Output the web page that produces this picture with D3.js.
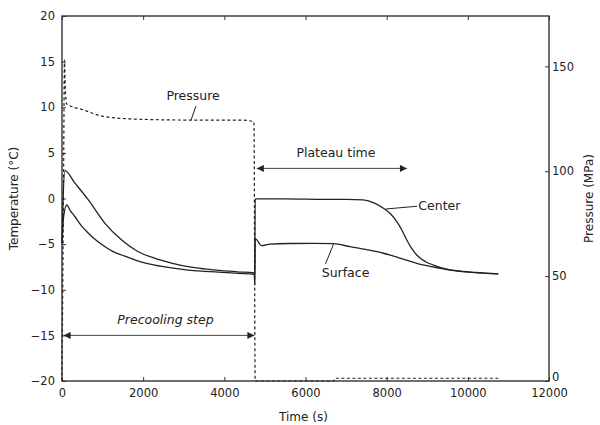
<!DOCTYPE html>
<meta charset="utf-8">
<style>
    body { margin: 0; background: white; }
    text { font-family: "DejaVu Sans", sans-serif; fill: #222; }
</style>
<body>
<div id="chart"></div>
<script src="https://d3js.org/d3.v7.min.js"></script>
<script>
// time (s), temperature (°C)
var centerTime = [0, 20, 74, 300, 650, 1060, 1470, 1880, 2290, 2700, 3110, 3520, 3935, 4330, 4740, 4750, 4760,
    5500, 6500, 7000, 7425, 7700, 7920, 8100, 8250, 8380, 8495, 8620, 8740, 8950, 9150, 9450, 9725, 10200, 10750];
var centerTemp = [-4.9, -1, 3.05, 1.8, -0.16, -2.72, -4.55, -5.83, -6.56, -7.07, -7.47, -7.72, -7.91, -8.03, -8.15, -9.5, -0.05,
    -0.05, -0.1, -0.1, -0.15, -0.5, -1.07, -1.7, -2.54, -3.5, -4.55, -5.5, -6.19, -6.9, -7.29, -7.7, -7.91, -8.1, -8.27];

var surfaceTime = [0, 40, 115, 200, 320, 480, 650, 850, 1060, 1250, 1470, 1880, 2290, 2700, 3110, 3520, 3935, 4330, 4740, 4750, 4760,
    4920, 5125, 5600, 6200, 6685, 7100, 7500, 7920, 8300, 8740, 9150, 9560, 10100, 10750];
var surfaceTemp = [-4.9, -2, -0.71, -1.3, -2.0, -3.0, -3.8, -4.6, -5.28, -5.8, -6.19, -6.85, -7.29, -7.6, -7.84, -7.98, -8.09, -8.2, -8.3, -9.3, -4.4,
    -5.17, -4.99, -4.93, -4.92, -4.95, -5.28, -5.6, -6.0, -6.5, -7.1, -7.5, -7.84, -8.1, -8.27];

// time (s), pressure (MPa)
var pressureTime = [0, 40, 60, 80, 115, 485, 1060, 1880, 3110, 4430, 4730, 4760, 6700, 6725, 10750];
var pressureVal = [0, 100, 153, 140, 132, 129.5, 126, 124.8, 124.4, 124.4, 123.5, 0, 0, 1.3, 1.3];

var xTicks = [0, 2000, 4000, 6000, 8000, 10000, 12000];
var tempTicks = [-20, -15, -10, -5, 0, 5, 10, 15, 20];
var pressTicks = [0, 50, 100, 150];

var margin = {top: 16, right: 51, bottom: 44, left: 62};
var W = 600, H = 425;
var width = W - margin.left - margin.right, height = H - margin.top - margin.bottom;

var svg = d3.select('#chart').append('svg').attr('width', W).attr('height', H);
var g = svg.append('g').attr('transform', 'translate(' + margin.left + ',' + margin.top + ')');

var x = d3.scaleLinear().domain([0, 12000]).range([0, width]);
var yT = d3.scaleLinear().domain([-20, 20]).range([height, 0]);
var yP = d3.scaleLinear().domain([0, 174]).range([height, 0]);

function styleAxis(sel) {
    sel.select('.domain').remove();
    sel.selectAll('.tick line').attr('stroke', '#333').attr('stroke-width', 1);
    sel.selectAll('text').style('font-size', '11.5px').attr('fill', '#222');
}

g.append('g').attr('transform', 'translate(0,' + height + ')')
    .call(d3.axisBottom(x).tickValues(xTicks).tickSize(-4).tickPadding(8).tickFormat(d3.format('d')))
    .call(styleAxis);
g.append('g')
    .call(d3.axisTop(x).tickValues(xTicks).tickSize(-4).tickFormat(''))
    .call(styleAxis);
g.append('g')
    .call(d3.axisLeft(yT).tickValues(tempTicks).tickSize(-4).tickPadding(7))
    .call(styleAxis);
var rightAxis = g.append('g').attr('transform', 'translate(' + width + ',0)')
    .call(d3.axisRight(yP).tickValues(pressTicks).tickSize(-4).tickPadding(3))
    .call(styleAxis);
// the "0" sits a little above the corner, as in the original
rightAxis.selectAll('.tick').filter(d => d === 0).select('text').attr('dy', '-0.05em');

// box
g.append('rect').attr('width', width).attr('height', height)
    .attr('fill', 'none').attr('stroke', '#333').attr('stroke-width', 1.4);

// curves
var lineT = d3.line().curve(d3.curveMonotoneX).x(d => x(d[0])).y(d => yT(d[1]));
var lineP = d3.line().curve(d3.curveMonotoneX).x(d => x(d[0])).y(d => yP(d[1]));

g.append('path').datum(d3.zip(pressureTime, pressureVal))
    .attr('d', lineP).attr('fill', 'none').attr('stroke', '#222')
    .attr('stroke-width', 1.2).attr('stroke-dasharray', '3,2.5');
g.append('path').datum(d3.zip(centerTime, centerTemp))
    .attr('d', lineT).attr('fill', 'none').attr('stroke', '#222').attr('stroke-width', 1.3);
g.append('path').datum(d3.zip(surfaceTime, surfaceTemp))
    .attr('d', lineT).attr('fill', 'none').attr('stroke', '#222').attr('stroke-width', 1.3);

// double arrows
var defs = svg.append('defs');
defs.append('marker').attr('id', 'head').attr('viewBox', '0 0 10 10')
    .attr('refX', 10).attr('refY', 5).attr('markerWidth', 9).attr('markerHeight', 7)
    .attr('markerUnits', 'userSpaceOnUse').attr('orient', 'auto-start-reverse')
    .append('path').attr('d', 'M0,0L10,5L0,10Z').attr('fill', '#222');

function arrow(t0, t1, temp) {
    g.append('line').attr('x1', x(t0)).attr('x2', x(t1)).attr('y1', yT(temp)).attr('y2', yT(temp))
        .attr('stroke', '#444').attr('stroke-width', 1)
        .attr('marker-start', 'url(#head)').attr('marker-end', 'url(#head)');
}
arrow(40, 4740, -15);
arrow(4800, 8500, 3.3);

g.append('text').attr('x', x(2550)).attr('y', yT(-13.7)).attr('text-anchor', 'middle')
    .style('font-size', '12.5px').style('font-style', 'italic').text('Precooling step');
g.append('text').attr('x', x(6750)).attr('y', yT(4.6)).attr('text-anchor', 'middle')
    .style('font-size', '12.5px').text('Plateau time');

// labels with leader lines
function label(txt, tx, ty, anchor, a, b, scale) {
    g.append('line').attr('x1', x(a[0])).attr('y1', scale(a[1])).attr('x2', x(b[0])).attr('y2', scale(b[1]))
        .attr('stroke', '#222').attr('stroke-width', 1);
    g.append('text').attr('x', x(tx)).attr('y', scale(ty)).attr('text-anchor', anchor)
        .attr('dy', '0.35em').style('font-size', '12.5px').text(txt);
}
label('Pressure', 3230, 136, 'middle', [3300, 131], [3180, 124.4], yP);
label('Center', 8780, -0.8, 'start', [7980, -1.15], [8750, -0.85], yT);
label('Surface', 6400, -8.1, 'start', [6490, -7.2], [6690, -5.0], yT);

// axis titles
svg.append('text').attr('transform', 'translate(14,' + (margin.top + yT(0)) + ') rotate(-90)')
    .attr('text-anchor', 'middle').attr('dy', '0.35em').style('font-size', '12px').text('Temperature (°C)');
svg.append('text').attr('transform', 'translate(589,' + (margin.top + yT(0)) + ') rotate(-90)')
    .attr('text-anchor', 'middle').attr('dy', '0.35em').style('font-size', '12px').text('Pressure (MPa)');
svg.append('text').attr('x', margin.left + x(5950)).attr('y', 417)
    .attr('text-anchor', 'middle').attr('dy', '0.35em').style('font-size', '12px').text('Time (s)');
</script>
</body>
